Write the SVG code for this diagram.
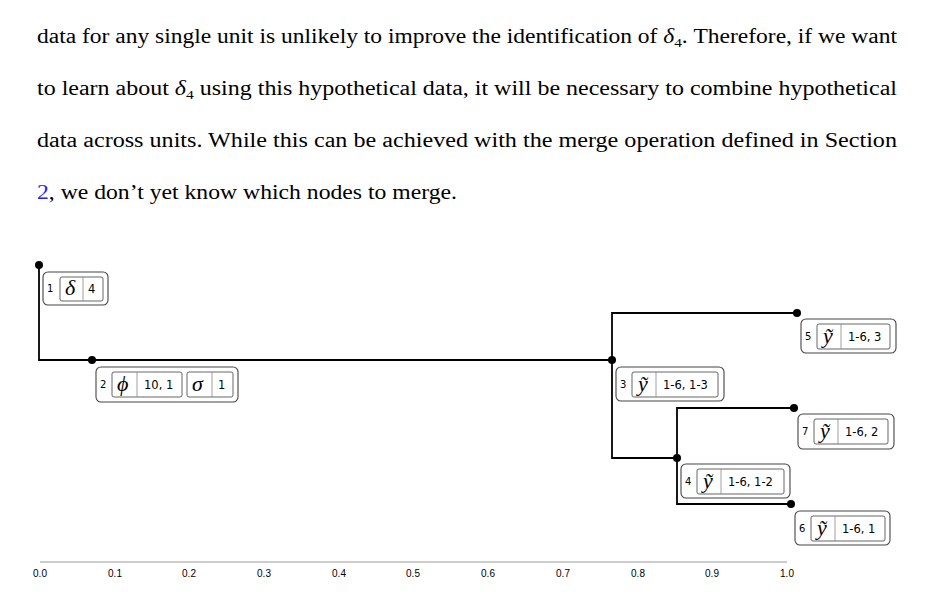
<svg xmlns="http://www.w3.org/2000/svg" width="934" height="599" viewBox="0 0 934 599">
<style>
.p{font-family:"Liberation Serif","DejaVu Serif",serif;font-size:20px;fill:#000}
.ob{fill:#fff;stroke:#444;stroke-width:1.1}
.ib{fill:#fff;stroke:#555;stroke-width:0.9}
.sep{stroke:#888;stroke-width:0.8}
.n{font-family:"DejaVu Sans","Liberation Sans",sans-serif;font-size:10px;fill:#000}
.v{font-family:"DejaVu Sans","Liberation Sans",sans-serif;font-size:11.5px;fill:#000}
.g{font-family:"Liberation Serif","DejaVu Serif",serif;font-style:italic;font-size:22px;fill:#000}
.ax{font-family:"Liberation Sans",Arial,sans-serif;font-size:10px;fill:#000;text-anchor:middle}
.e{fill:none;stroke:#000;stroke-width:1.8}
</style>
<text class="p" x="37" y="43" textLength="860" lengthAdjust="spacingAndGlyphs">data for any single unit is unlikely to improve the identification of <tspan font-style="italic">δ</tspan><tspan font-size="13" dy="4">4</tspan><tspan dy="-4">. Therefore, if we want</tspan></text>
<text class="p" x="37" y="95" textLength="860" lengthAdjust="spacingAndGlyphs">to learn about <tspan font-style="italic">δ</tspan><tspan font-size="13" dy="4">4</tspan><tspan dy="-4"> using this hypothetical data, it will be necessary to combine hypothetical</tspan></text>
<text class="p" x="37" y="147" textLength="860" lengthAdjust="spacingAndGlyphs">data across units. While this can be achieved with the merge operation defined in Section</text>
<text class="p" x="37" y="199" textLength="420" lengthAdjust="spacingAndGlyphs"><tspan fill="#2222ee">2</tspan>, we don’t yet know which nodes to merge.</text>

<g id="edges">
<path class="e" d="M39,265 V360 H612"/>
<path class="e" d="M797,313 H612 V458 H677"/>
<path class="e" d="M794,408 H677 V504 H791"/>
</g>

<g id="node1">
<circle cx="39" cy="265" r="4"/>
<rect class="ob" x="43" y="272" width="65" height="33" rx="5"/>
<text class="n" x="47" y="292">1</text>
<rect class="ib" x="60" y="277" width="43" height="24" rx="2"/>
<line class="sep" x1="83" y1="277" x2="83" y2="301"/>
<text class="g" x="65" y="295">δ</text>
<text class="v" x="88" y="293">4</text>
</g>
<g id="node2">
<circle cx="92" cy="360" r="4"/>
<rect class="ob" x="96" y="367" width="142" height="35" rx="5"/>
<text class="n" x="100" y="388">2</text>
<rect class="ib" x="112" y="372" width="70" height="25" rx="2"/>
<line class="sep" x1="137" y1="372" x2="137" y2="397"/>
<text class="g" x="117" y="391">ϕ</text>
<text class="v" x="144" y="389">10, 1</text>
<rect class="ib" x="187" y="372" width="46" height="25" rx="2"/>
<line class="sep" x1="212" y1="372" x2="212" y2="397"/>
<text class="g" x="192" y="391">σ</text>
<text class="v" x="218" y="389">1</text>
</g>
<g id="node3">
<circle cx="612" cy="360" r="4"/>
<rect class="ob" x="616" y="367" width="108" height="34" rx="5"/>
<text class="n" x="620" y="388">3</text>
<rect class="ib" x="632" y="372" width="86" height="25" rx="2"/>
<line class="sep" x1="656" y1="372" x2="656" y2="397"/>
<text class="g" x="638" y="391">ỹ</text>
<text class="v" x="663" y="389">1-6, 1-3</text>
</g>
<g id="node4">
<circle cx="677" cy="458" r="4"/>
<rect class="ob" x="681" y="464" width="109" height="34" rx="5"/>
<text class="n" x="685" y="485">4</text>
<rect class="ib" x="697" y="469" width="87" height="25" rx="2"/>
<line class="sep" x1="721" y1="469" x2="721" y2="494"/>
<text class="g" x="703" y="488">ỹ</text>
<text class="v" x="728" y="486">1-6, 1-2</text>
</g>
<g id="node5">
<circle cx="797" cy="313" r="4"/>
<rect class="ob" x="801" y="319" width="95" height="34" rx="5"/>
<text class="n" x="805" y="340">5</text>
<rect class="ib" x="817" y="324" width="73" height="25" rx="2"/>
<line class="sep" x1="841" y1="324" x2="841" y2="349"/>
<text class="g" x="823" y="343">ỹ</text>
<text class="v" x="848" y="341">1-6, 3</text>
</g>
<g id="node7">
<circle cx="794" cy="408" r="4"/>
<rect class="ob" x="798" y="414" width="96" height="35" rx="5"/>
<text class="n" x="802" y="435">7</text>
<rect class="ib" x="814" y="419" width="74" height="25" rx="2"/>
<line class="sep" x1="838" y1="419" x2="838" y2="444"/>
<text class="g" x="820" y="438">ỹ</text>
<text class="v" x="845" y="436">1-6, 2</text>
</g>
<g id="node6">
<circle cx="791" cy="504" r="4"/>
<rect class="ob" x="795" y="511" width="95" height="34" rx="5"/>
<text class="n" x="799" y="532">6</text>
<rect class="ib" x="811" y="516" width="74" height="25" rx="2"/>
<line class="sep" x1="835" y1="516" x2="835" y2="541"/>
<text class="g" x="817" y="535">ỹ</text>
<text class="v" x="842" y="533">1-6, 1</text>
</g>

<g id="axis">
<line x1="40" y1="562" x2="787" y2="562" stroke="#999" stroke-width="1.2"/>
<text class="ax" x="40" y="577">0.0</text>
<text class="ax" x="115" y="577">0.1</text>
<text class="ax" x="189" y="577">0.2</text>
<text class="ax" x="264" y="577">0.3</text>
<text class="ax" x="339" y="577">0.4</text>
<text class="ax" x="413" y="577">0.5</text>
<text class="ax" x="488" y="577">0.6</text>
<text class="ax" x="563" y="577">0.7</text>
<text class="ax" x="638" y="577">0.8</text>
<text class="ax" x="712" y="577">0.9</text>
<text class="ax" x="787" y="577">1.0</text>
</g>
</svg>
